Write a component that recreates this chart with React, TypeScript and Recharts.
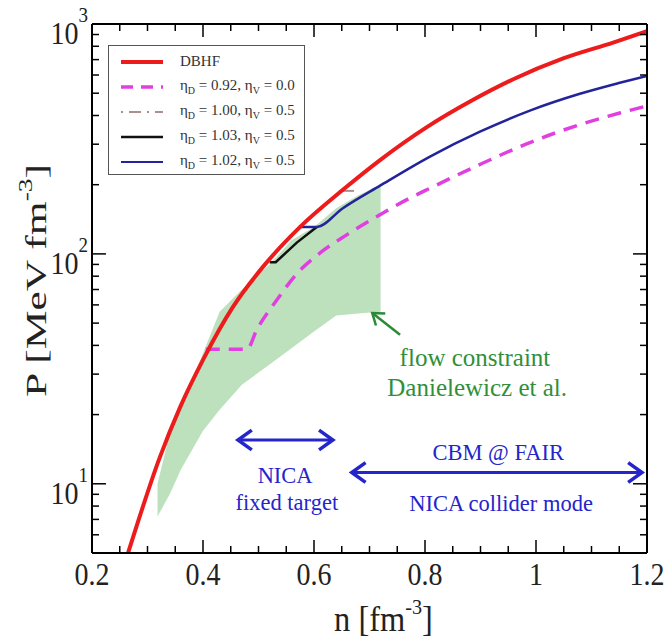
import React from "react";
import {
  ComposedChart,
  Line,
  Area,
  XAxis,
  YAxis,
  Legend,
  CartesianGrid,
  ReferenceLine,
  ReferenceDot,
} from "recharts";

// DBHF pressure vs density
const dbhfN = [0.265, 0.3225, 0.359, 0.4, 0.454, 0.508, 0.575, 0.652, 0.719, 0.804, 0.886, 0.959, 1.049, 1.139, 1.2];
const dbhfP = [5.0, 13.1, 21.6, 34.6, 58.8, 87.8, 131, 190, 256, 357, 467, 575, 708, 830, 930];

// eta_D = 0.92, eta_V = 0.0
const softN = [0.405, 0.479, 0.497, 0.533, 0.569, 0.611, 0.659, 0.706, 0.773, 0.809, 0.899, 0.989, 1.079, 1.151, 1.2];
const softP = [38.5, 38.5, 46.8, 63, 82, 101, 121, 142, 175, 193, 245, 305, 365, 410, 440];

// eta_D = 1.00, eta_V = 0.5
const grayN = [0.645, 0.672];
const grayP = [188, 188];

// eta_D = 1.03, eta_V = 0.5
const blackN = [0.52, 0.531, 0.569, 0.605];
const blackP = [92, 92, 112, 131];

// eta_D = 1.02, eta_V = 0.5
const blueN = [0.575, 0.605, 0.652, 0.719, 0.809, 0.899, 0.989, 1.079, 1.151, 1.2];
const blueP = [131, 131, 158, 198, 265, 340, 420, 497, 555, 595];

// flow constraint band
const bandN = [0.318, 0.34, 0.36, 0.38, 0.4, 0.43, 0.47, 0.52, 0.56, 0.6, 0.64, 0.68, 0.72];
const bandLow = [7.2, 9.0, 11.5, 14, 17, 21, 27, 33, 39, 46, 54, 55, 56];
const bandHigh = [10, 16.5, 22, 28, 37, 56, 70, 90, 115, 131, 158, 180, 200];

const xMajor = [0.2, 0.4, 0.6, 0.8, 1, 1.2];
const xLabels = ["0.2", "0.4", "0.6", "0.8", "1", "1.2"];
const xTicks = [0.2, 0.25, 0.3, 0.35, 0.4, 0.45, 0.5, 0.55, 0.6, 0.65, 0.7, 0.75, 0.8, 0.85, 0.9, 0.95, 1, 1.05, 1.1, 1.15, 1.2];
const yMajor = [10, 100, 1000];
const yExp = ["1", "2", "3"];
const yTicks = [5, 6, 7, 8, 9, 10, 20, 30, 40, 50, 60, 70, 80, 90, 100, 200, 300, 400, 500, 600, 700, 800, 900, 1000];

const legendLabels = [
  ["DBHF"],
  ["0.92", "0.0"],
  ["1.00", "0.5"],
  ["1.03", "0.5"],
  ["1.02", "0.5"],
];

const notes = [
  { text: "flow constraint", n: 0.89, p: 35.6, color: "green" },
  { text: "Danielewicz et al.", n: 0.894, p: 26.4, color: "green" },
  { text: "CBM @ FAIR", n: 0.932, p: 13.8, color: "blue" },
  { text: "NICA collider mode", n: 0.937, p: 8.26, color: "blue" },
  { text: "NICA", n: 0.548, p: 10.9, color: "blue" },
  { text: "fixed target", n: 0.551, p: 8.36, color: "blue" },
];

const X_MIN = 0.2;
const X_MAX = 1.2;
const Y_MIN = 5;
const Y_MAX = 1000;

// layout
const CHART_W = 666;
const CHART_H = 640;
const MARGIN = { top: 24, right: 19, bottom: 0, left: 0 };
const Y_AXIS_W = 92;
const X_AXIS_H = 87;
const PLOT = {
  left: MARGIN.left + Y_AXIS_W,
  right: CHART_W - MARGIN.right,
  top: MARGIN.top,
  bottom: CHART_H - MARGIN.bottom - X_AXIS_H,
};

const zip = (n: number[], p: number[]) => n.map((v, i) => ({ n: v, p: p[i] }));
const dbhfData = zip(dbhfN, dbhfP);
const softData = zip(softN, softP);
const grayData = zip(grayN, grayP);
const blackData = zip(blackN, blackP);
const blueData = zip(blueN, blueP);
const bandData = bandN.map((v, i) => ({ n: v, range: [bandLow[i], bandHigh[i]] }));

const FONT = "'Liberation Serif', 'Times New Roman', serif";
const RED = "#ec1c1c";
const MAGENTA = "#e040e0";
const GRAYDASH = "#a89090";
const NAVY = "#24249a";
const ARROW_BLUE = "#2525cc";
const GREEN_TEXT = "#2f8f3a";
const BAND = "#bde0bd";

const near = (a: number, b: number) => Math.abs(a - b) < 1e-6;
const isXMajor = (v: number) => xMajor.some((m) => near(m, v));
const isYMajor = (v: number) => yMajor.some((m) => near(m, v));

const BottomTick = (props: any) => {
  const { x, y, payload } = props;
  const idx = xMajor.findIndex((m) => near(m, payload.value));
  const major = idx >= 0;
  return (
    <g>
      <line x1={x} y1={y} x2={x} y2={y - (major ? 13 : 7)} stroke="#000" strokeWidth={1.5} />
      {major && (
        <text
          transform={`translate(${x} ${y + 32}) scale(1 1.15)`}
          textAnchor="middle"
          fontSize={28}
          fontFamily={FONT}
          fill="#222"
        >
          {xLabels[idx]}
        </text>
      )}
    </g>
  );
};

const LeftTick = (props: any) => {
  const { x, y, payload } = props;
  const idx = yMajor.findIndex((m) => near(m, payload.value));
  const major = idx >= 0;
  return (
    <g>
      <line x1={x} y1={y} x2={x + (major ? 14 : 7)} y2={y} stroke="#000" strokeWidth={1.5} />
      {major && (
        <text
          transform={`translate(${x - 4} ${y + 20}) scale(1 1.15)`}
          textAnchor="end"
          fontFamily={FONT}
          fill="#222"
        >
          <tspan fontSize={28}>10</tspan>
          <tspan fontSize={19} dy={-19}>{yExp[idx]}</tspan>
        </text>
      )}
    </g>
  );
};

// mirrored top / right frame with inward ticks, overlaid on the plot box
const FrameOverlay = () => {
  const w = PLOT.right - PLOT.left;
  const h = PLOT.bottom - PLOT.top;
  const lo = Math.log10(Y_MIN);
  const hi = Math.log10(Y_MAX);
  const px = (v: number) => PLOT.left + ((v - X_MIN) / (X_MAX - X_MIN)) * w;
  const py = (v: number) => PLOT.bottom - ((Math.log10(v) - lo) / (hi - lo)) * h;
  return (
    <svg
      width={CHART_W}
      height={CHART_H}
      style={{ position: "absolute", left: 0, top: 0, pointerEvents: "none" }}
    >
      <line x1={PLOT.left} y1={PLOT.top} x2={PLOT.right} y2={PLOT.top} stroke="#000" strokeWidth={2} />
      <line x1={PLOT.right} y1={PLOT.top} x2={PLOT.right} y2={PLOT.bottom} stroke="#000" strokeWidth={2} />
      {xTicks.map((t) => (
        <line key={`t${t}`} x1={px(t)} y1={PLOT.top} x2={px(t)} y2={PLOT.top + (isXMajor(t) ? 13 : 7)} stroke="#000" strokeWidth={1.5} />
      ))}
      {yTicks.map((t) => (
        <line key={`r${t}`} x1={PLOT.right} y1={py(t)} x2={PLOT.right - (isYMajor(t) ? 14 : 7)} y2={py(t)} stroke="#000" strokeWidth={1.5} />
      ))}
    </svg>
  );
};

const XTitle = (props: any) => {
  const { viewBox } = props;
  const cx = viewBox.x + viewBox.width / 2 + 14;
  return (
    <text
      transform={`translate(${cx} ${viewBox.y + 78}) scale(1.12 1.2)`}
      textAnchor="middle"
      fontFamily={FONT}
      fill="#222"
    >
      <tspan fontSize={29}>n  [fm</tspan>
      <tspan fontSize={18} dy={-14}>-3</tspan>
      <tspan fontSize={29} dy={14}>]</tspan>
    </text>
  );
};

const YTitle = (props: any) => {
  const { viewBox } = props;
  const cy = viewBox.y + viewBox.height / 2 - 8;
  const cx = 46;
  return (
    <text
      transform={`translate(${cx} ${cy}) rotate(-90) scale(1.45 1)`}
      textAnchor="middle"
      fontFamily={FONT}
      fill="#222"
    >
      <tspan fontSize={30}>P  [MeV fm</tspan>
      <tspan fontSize={19} dy={-14}>-3</tspan>
      <tspan fontSize={30} dy={14}>]</tspan>
    </text>
  );
};

const sampleStyles = [
  { stroke: RED, width: 4, dash: undefined },
  { stroke: MAGENTA, width: 3.5, dash: "12 8" },
  { stroke: GRAYDASH, width: 2, dash: "2 6 12 6" },
  { stroke: "#111", width: 2.5, dash: undefined },
  { stroke: NAVY, width: 2, dash: undefined },
];

const LegendBox = () => (
  <div
    style={{
      border: "1.5px solid #555",
      background: "#fff",
      width: 197,
      height: 130,
      paddingTop: 3,
      boxSizing: "border-box",
      fontFamily: FONT,
      fontSize: 15,
      color: "#333",
    }}
  >
    {legendLabels.map((lab, i) => {
      const s = sampleStyles[i];
      return (
        <div key={i} style={{ display: "flex", alignItems: "center", height: 25 }}>
          <svg width={71} height={25} style={{ flex: "none" }}>
            <line x1={12} y1={13} x2={54} y2={13} stroke={s.stroke} strokeWidth={s.width} strokeDasharray={s.dash} />
          </svg>
          {lab.length === 1 ? (
            <span>{lab[0]}</span>
          ) : (
            <span>
              η<sub style={{ fontSize: 10 }}>D</sub> = {lab[0]}, η<sub style={{ fontSize: 10 }}>V</sub> = {lab[1]}
            </span>
          )}
        </div>
      );
    })}
  </div>
);

const arrowShape = (color: string, both: boolean) => (props: any) => {
  const { x1, y1, x2, y2 } = props;
  const ang = Math.atan2(y2 - y1, x2 - x1);
  const len = both ? 17 : 13;
  const spread = 0.62;
  const head = (hx: number, hy: number, a: number) =>
    `${hx - len * Math.cos(a - spread)},${hy - len * Math.sin(a - spread)} ${hx},${hy} ${hx - len * Math.cos(a + spread)},${hy - len * Math.sin(a + spread)}`;
  return (
    <g>
      <line x1={x1} y1={y1} x2={x2} y2={y2} stroke={color} strokeWidth={both ? 3 : 2.5} />
      <polyline points={head(x2, y2, ang)} fill="none" stroke={color} strokeWidth={both ? 3.5 : 2.5} />
      {both && <polyline points={head(x1, y1, ang + Math.PI)} fill="none" stroke={color} strokeWidth={3.5} />}
    </g>
  );
};

export default function App() {
  return (
    <div style={{ position: "absolute", left: 0, top: 0, width: CHART_W, height: CHART_H, background: "#fff" }}>
      <ComposedChart width={CHART_W} height={CHART_H} margin={MARGIN}>
        <CartesianGrid
          horizontalValues={[Y_MAX]}
          verticalValues={[X_MAX]}
          stroke="#000"
          strokeWidth={2}
        />
        <XAxis
          dataKey="n"
          type="number"
          domain={[X_MIN, X_MAX]}
          ticks={xTicks}
          allowDataOverflow
          height={X_AXIS_H}
          tickSize={0}
          tickMargin={0}
          tick={<BottomTick />}
          interval={0}
          axisLine={{ stroke: "#000", strokeWidth: 2 }}
          label={<XTitle />}
        />
        <YAxis
          scale="log"
          type="number"
          domain={[Y_MIN, Y_MAX]}
          ticks={yTicks}
          allowDataOverflow
          width={Y_AXIS_W}
          tickSize={0}
          tickMargin={0}
          tick={<LeftTick />}
          interval={0}
          axisLine={{ stroke: "#000", strokeWidth: 2 }}
          label={<YTitle />}
        />
        <Area
          data={bandData}
          dataKey="range"
          type="linear"
          stroke="none"
          fill={BAND}
          fillOpacity={1}
          isAnimationActive={false}
        />
        <Line data={softData} dataKey="p" type="monotone" stroke={MAGENTA} strokeWidth={3.5} strokeDasharray="14 9" dot={false} isAnimationActive={false} />
        <Line data={grayData} dataKey="p" type="linear" stroke={GRAYDASH} strokeWidth={2} dot={false} isAnimationActive={false} />
        <Line data={blackData} dataKey="p" type="linear" stroke="#111" strokeWidth={2.5} dot={false} isAnimationActive={false} />
        <Line data={blueData} dataKey="p" type="monotone" stroke={NAVY} strokeWidth={2.5} dot={false} isAnimationActive={false} />
        <Line data={dbhfData} dataKey="p" type="monotone" stroke={RED} strokeWidth={4} dot={false} isAnimationActive={false} />

        <ReferenceLine
          segment={[{ x: 0.463, y: 15.5 }, { x: 0.634, y: 15.5 }]}
          ifOverflow="visible"
          shape={arrowShape(ARROW_BLUE, true)}
        />
        <ReferenceLine
          segment={[{ x: 0.668, y: 11.2 }, { x: 1.191, y: 11.2 }]}
          ifOverflow="visible"
          shape={arrowShape(ARROW_BLUE, true)}
        />
        <ReferenceLine
          segment={[{ x: 0.755, y: 44.5 }, { x: 0.705, y: 55.3 }]}
          ifOverflow="visible"
          shape={arrowShape("#2a8a35", false)}
        />
        {notes.map((t, i) => (
          <ReferenceDot
            key={i}
            x={t.n}
            y={t.p}
            r={0}
            fill="none"
            stroke="none"
            ifOverflow="visible"
            label={{
              value: t.text,
              position: "center",
              fill: t.color === "green" ? GREEN_TEXT : ARROW_BLUE,
              fontSize: t.color === "green" ? 25 : 22.5,
              fontFamily: FONT,
            }}
          />
        ))}
        <Legend
          layout="vertical"
          align="center"
          verticalAlign="middle"
          content={<LegendBox />}
          wrapperStyle={{ left: 108, top: 45, width: 199, height: 132 }}
        />
      </ComposedChart>
      <FrameOverlay />
    </div>
  );
}
